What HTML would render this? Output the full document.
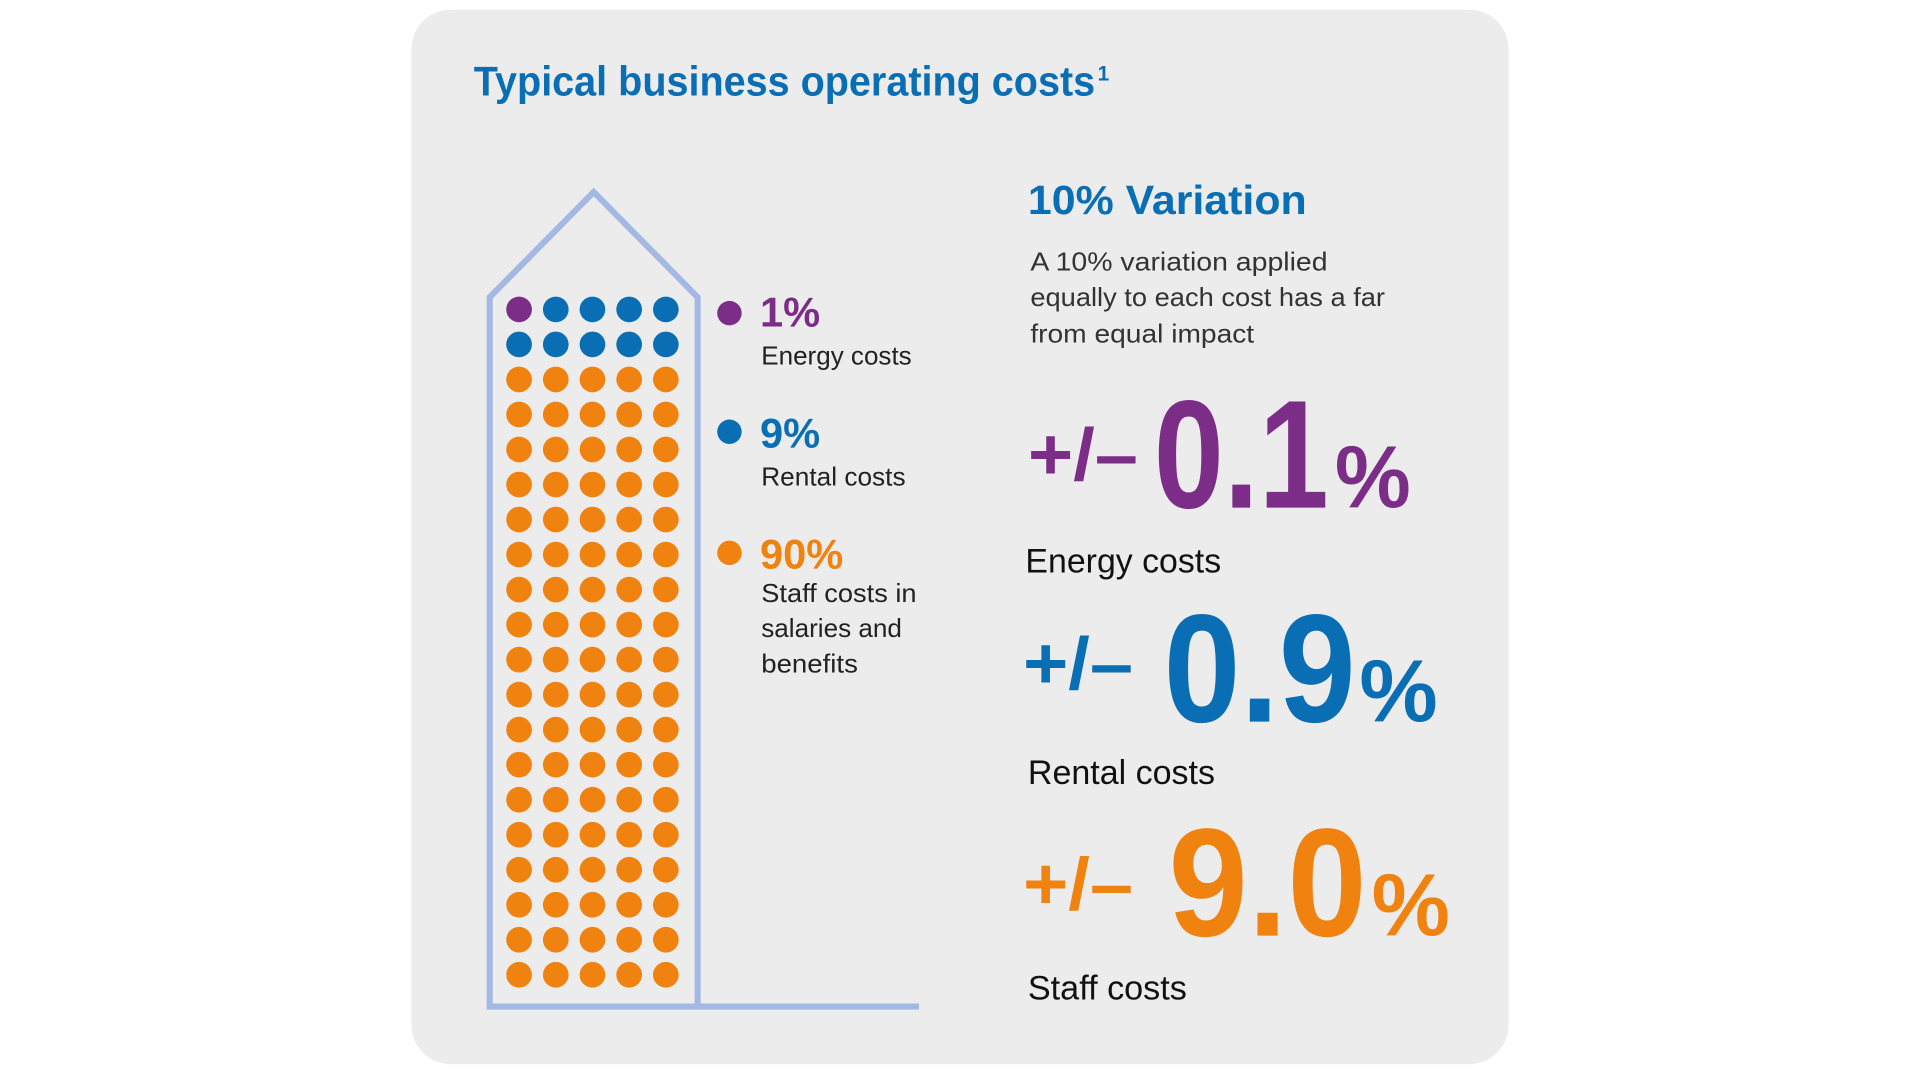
<!DOCTYPE html>
<html><head><meta charset="utf-8"><style>
html,body{margin:0;padding:0;background:#fff;width:1920px;height:1080px;overflow:hidden}
svg{display:block}
text{font-family:"Liberation Sans",sans-serif}
</style></head><body>
<svg width="1920" height="1080" viewBox="0 0 1569 883" xmlns="http://www.w3.org/2000/svg">
<rect x="336" y="8" width="897" height="862" rx="32" fill="#ececec"/>
<text x="387" y="78" font-size="34" font-weight="bold" fill="#0a6eb4" textLength="508" lengthAdjust="spacingAndGlyphs">Typical business operating costs</text>
<text x="897" y="66" font-size="17" font-weight="bold" fill="#0a6eb4">1</text>
<polyline points="400,823 400,243 485,157 570,243 570,823" fill="none" stroke="#a3b8e3" stroke-width="5"/>
<polyline points="400,820 400,823 751,823" fill="none" stroke="#a3b8e3" stroke-width="5"/>
<circle cx="596" cy="256" r="10" fill="#7b2d87"/>
<circle cx="596" cy="353" r="10" fill="#0a6eb4"/>
<circle cx="596" cy="452" r="10" fill="#f0820f"/>
<text x="621" y="267" font-size="34" font-weight="bold" fill="#7b2d87">1%</text>
<text x="622" y="298" font-size="21" fill="#222" textLength="123" lengthAdjust="spacingAndGlyphs">Energy costs</text>
<text x="621" y="366" font-size="34" font-weight="bold" fill="#0a6eb4">9%</text>
<text x="622" y="397" font-size="21" fill="#222" textLength="118" lengthAdjust="spacingAndGlyphs">Rental costs</text>
<text x="621" y="465" font-size="34" font-weight="bold" fill="#f0820f">90%</text>
<text x="622" y="492" font-size="21" fill="#222" textLength="127" lengthAdjust="spacingAndGlyphs">Staff costs in</text>
<text x="622" y="521" font-size="21" fill="#222" textLength="115" lengthAdjust="spacingAndGlyphs">salaries and</text>
<text x="622" y="550" font-size="21" fill="#222" textLength="79" lengthAdjust="spacingAndGlyphs">benefits</text>
<text x="840" y="175" font-size="33" font-weight="bold" fill="#0a6eb4" textLength="228" lengthAdjust="spacingAndGlyphs">10% Variation</text>
<text x="842" y="221" font-size="21" fill="#333" textLength="243" lengthAdjust="spacingAndGlyphs">A 10% variation applied</text>
<text x="842" y="250" font-size="21" fill="#333" textLength="290" lengthAdjust="spacingAndGlyphs">equally to each cost has a far</text>
<text x="842" y="280" font-size="21" fill="#333" textLength="183" lengthAdjust="spacingAndGlyphs">from equal impact</text>
<g font-weight="bold">
<text x="840" y="392" font-size="60" fill="#7b2d87" textLength="90" lengthAdjust="spacingAndGlyphs">+/–</text>
<text x="943" y="415" font-size="126" fill="#7b2d87" textLength="143" lengthAdjust="spacingAndGlyphs">0.1</text>
<text x="1091" y="415" font-size="72" fill="#7b2d87" textLength="62" lengthAdjust="spacingAndGlyphs">%</text>
<text x="836" y="563" font-size="60" fill="#0a6eb4" textLength="90" lengthAdjust="spacingAndGlyphs">+/–</text>
<text x="951" y="590" font-size="126" fill="#0a6eb4" textLength="157" lengthAdjust="spacingAndGlyphs">0.9</text>
<text x="1111" y="590" font-size="72" fill="#0a6eb4" textLength="64" lengthAdjust="spacingAndGlyphs">%</text>
<text x="836" y="743" font-size="60" fill="#f0820f" textLength="90" lengthAdjust="spacingAndGlyphs">+/–</text>
<text x="955" y="765" font-size="126" fill="#f0820f" textLength="162" lengthAdjust="spacingAndGlyphs">9.0</text>
<text x="1121" y="765" font-size="72" fill="#f0820f" textLength="64" lengthAdjust="spacingAndGlyphs">%</text>
</g>
<text x="838" y="468" font-size="28" fill="#111" textLength="160" lengthAdjust="spacingAndGlyphs">Energy costs</text>
<text x="840" y="641" font-size="28" fill="#111" textLength="153" lengthAdjust="spacingAndGlyphs">Rental costs</text>
<text x="840" y="817" font-size="28" fill="#111" textLength="130" lengthAdjust="spacingAndGlyphs">Staff costs</text>
<g>
<circle cx="424" cy="253.0" r="10.5" fill="#7b2d87"/><circle cx="454" cy="253.0" r="10.5" fill="#0a6eb4"/><circle cx="484" cy="253.0" r="10.5" fill="#0a6eb4"/><circle cx="514" cy="253.0" r="10.5" fill="#0a6eb4"/><circle cx="544" cy="253.0" r="10.5" fill="#0a6eb4"/>
<circle cx="424" cy="281.6" r="10.5" fill="#0a6eb4"/><circle cx="454" cy="281.6" r="10.5" fill="#0a6eb4"/><circle cx="484" cy="281.6" r="10.5" fill="#0a6eb4"/><circle cx="514" cy="281.6" r="10.5" fill="#0a6eb4"/><circle cx="544" cy="281.6" r="10.5" fill="#0a6eb4"/>
</g>
<g fill="#f0820f" id="or"></g>
<script>
var g=document.getElementById('or'),ns='http://www.w3.org/2000/svg';
for(var i=2;i<20;i++)for(var j=0;j<5;j++){var c=document.createElementNS(ns,'circle');c.setAttribute('cx',424+30*j);c.setAttribute('cy',253+28.63*i);c.setAttribute('r',10.5);g.appendChild(c);}
</script>
</svg>
</body></html>
